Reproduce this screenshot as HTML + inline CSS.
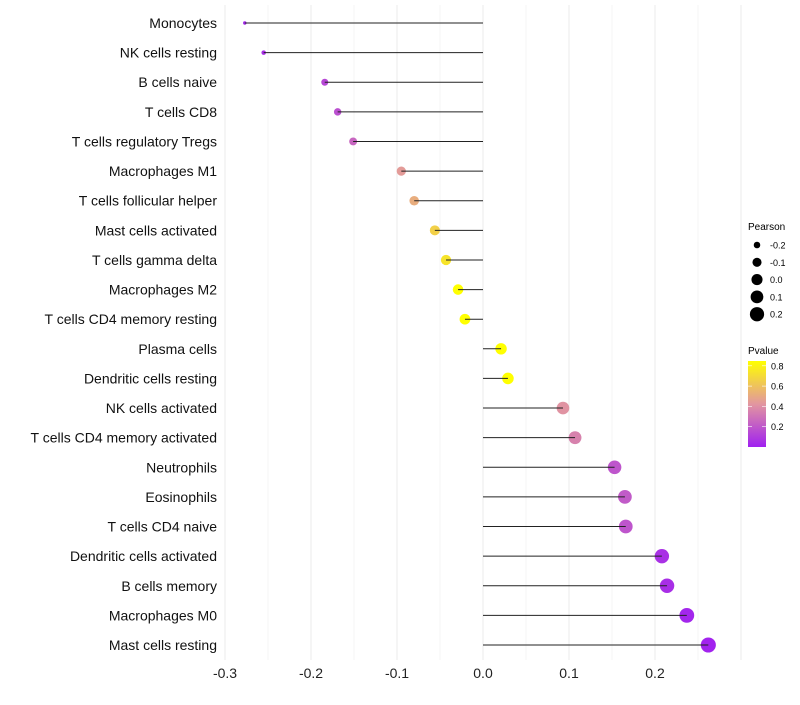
<!DOCTYPE html>
<html><head><meta charset="utf-8"><style>
body{margin:0;background:#fff;font-family:"Liberation Sans",sans-serif}
</style></head><body>
<svg id="c" width="800" height="700" xmlns="http://www.w3.org/2000/svg" font-family="Liberation Sans, sans-serif"></svg>
<script>
const categories=["Monocytes","NK cells resting","B cells naive","T cells CD8","T cells regulatory  Tregs ","Macrophages M1","T cells follicular helper","Mast cells activated","T cells gamma delta","Macrophages M2","T cells CD4 memory resting","Plasma cells","Dendritic cells resting","NK cells activated","T cells CD4 memory activated","Neutrophils","Eosinophils","T cells CD4 naive","Dendritic cells activated","B cells memory","Macrophages M0","Mast cells resting"];
const pearson=[-0.277,-0.255,-0.184,-0.169,-0.151,-0.095,-0.080,-0.056,-0.043,-0.029,-0.021,0.021,0.029,0.093,0.107,0.153,0.165,0.166,0.208,0.214,0.237,0.262];
const pvalue=[0.03,0.06,0.15,0.18,0.26,0.45,0.52,0.66,0.74,0.86,0.9,0.88,0.85,0.42,0.36,0.2,0.22,0.2,0.07,0.06,0.03,0.02];
const xTicks=[-0.3,-0.2,-0.1,0.0,0.1,0.2];
const sizeTicks=[-0.2,-0.1,0.0,0.1,0.2];
const colorTicks=[0.2,0.4,0.6,0.8];
const svg=document.getElementById('c');const NS="http://www.w3.org/2000/svg";
function el(t,a,txt){const e=document.createElementNS(NS,t);for(const k in a)e.setAttribute(k,a[k]);if(txt!==undefined)e.textContent=txt;svg.appendChild(e);return e;}
const x=v=>483+v*860;
const y=i=>23+i*(622/21);
const r=v=>Math.sqrt(3+100*Math.max(0,v+0.277));
function lerp(a,b,t){return a.map((c,i)=>Math.round(c+(b[i]-c)*t));}
function col(p){const t=Math.max(0,Math.min(1,(p-0.01)/0.84));const A=[160,32,240],M=[226,150,160],B=[255,255,0];const c=t<0.5?lerp(A,M,t/0.5):lerp(M,B,(t-0.5)/0.5);return `rgb(${c})`;}
for(let v=-0.3;v<=0.301;v+=0.05){const g=el('line',{x1:x(v),x2:x(v),y1:5,y2:660,stroke:Math.abs(Math.round(v*20))%2===0?'#ebebeb':'#f4f4f4','stroke-width':1});
}
xTicks.forEach(v=>{const t=el('text',{x:x(v),y:678,'font-size':14,'text-anchor':'middle',fill:'#222'},v.toFixed(1));
});
categories.forEach((c,i)=>{
const t=el('text',{x:217,y:y(i)+5,'font-size':14,'text-anchor':'end',fill:'#111'},c);

const d=el('circle',{cx:x(pearson[i]),cy:y(i),r:r(pearson[i]),fill:col(pvalue[i])});

const l=el('line',{x1:x(0),x2:x(pearson[i]),y1:y(i),y2:y(i),stroke:'#222','stroke-width':1});

});
const st=el('text',{x:748,y:230,'font-size':10},'Pearson');
sizeTicks.forEach((v,i)=>{const yy=245+i*17.3;
const c=el('circle',{cx:757,cy:yy,r:r(v),fill:'#000'});
const t=el('text',{x:770,y:yy+3.5,'font-size':9},v.toFixed(1));});
const ct=el('text',{x:748,y:354,'font-size':10},'Pvalue');
const defs=el('defs',{});const lg=document.createElementNS(NS,'linearGradient');lg.setAttribute('id','g');lg.setAttribute('x1',0);lg.setAttribute('y1',1);lg.setAttribute('x2',0);lg.setAttribute('y2',0);
for(let k=0;k<=10;k++){const s=document.createElementNS(NS,'stop');s.setAttribute('offset',k/10);s.setAttribute('stop-color',col(0.01+0.84*k/10));lg.appendChild(s);}defs.appendChild(lg);
const cb=el('rect',{x:748,y:361,width:18,height:86,fill:'url(#g)'});
colorTicks.forEach(v=>{const yy=447-(v-0.0)*101.5;
el('line',{x1:748,x2:752,y1:yy,y2:yy,stroke:'#fff','stroke-width':0.6});el('line',{x1:762,x2:766,y1:yy,y2:yy,stroke:'#fff','stroke-width':0.6});
const t=el('text',{x:771,y:yy+3.5,'font-size':9},v.toFixed(1));});
</script>
</body></html>
